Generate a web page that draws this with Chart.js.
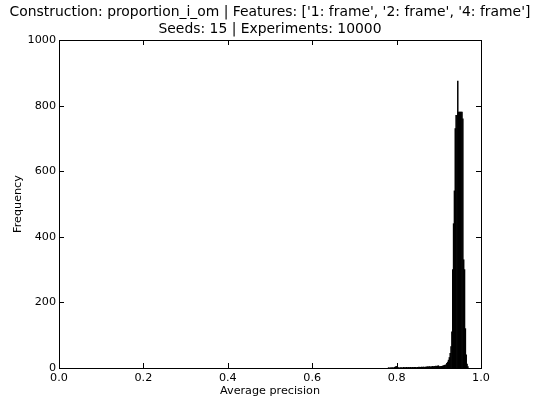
<!DOCTYPE html>
<html>
<head>
<meta charset="utf-8">
<script src="https://cdn.jsdelivr.net/npm/chart.js@4.4.1/dist/chart.umd.min.js"></script>
<style>
html,body{margin:0;padding:0;background:#fff;}
#wrap{width:536px;height:403px;position:relative;}
</style>
</head>
<body>
<div id="wrap"><canvas id="c" width="536" height="403"></canvas></div>
<script>
const titleLines = ["Construction: proportion_i_om | Features: ['1: frame', '2: frame', '4: frame']", "Seeds: 15 | Experiments: 10000"];
const xLabel = "Average precision";
const yLabel = "Frequency";
const xTicks = [0.0, 0.2, 0.4, 0.6, 0.8, 1.0];
const yTicks = [0, 200, 400, 600, 800, 1000];

const binCenters = [
0.781,0.783,0.785,0.787,0.789,0.791,0.793,0.795,0.797,0.799,
0.801,0.803,0.805,0.807,0.809,0.811,0.813,0.815,0.817,0.819,
0.821,0.823,0.825,0.827,0.829,0.831,0.833,0.835,0.837,0.839,
0.841,0.843,0.845,0.847,0.849,0.851,0.853,0.855,0.857,0.859,
0.861,0.863,0.865,0.867,0.869,0.871,0.873,0.875,0.877,0.879,
0.881,0.883,0.885,0.887,0.889,0.891,0.893,0.895,0.897,0.899,
0.901,0.903,0.905,0.907,0.909,0.911,0.913,0.915,0.917,0.919,
0.921,0.923,0.925,0.927,0.929,0.931,0.933,0.935,0.937,0.939,
0.941,0.943,0.945,0.947,0.949,0.951,0.953,0.955,0.957,0.959,
0.961,0.963,0.965,0.967,0.969];
const counts = [
1,0,0,1,0,1,0,2,3,5,
2,1,1,0,1,1,0,1,2,1,
1,2,1,1,2,1,2,1,2,2,
1,2,2,1,2,2,3,2,2,3,
2,3,3,2,3,3,4,3,4,4,
3,4,5,4,5,5,6,5,6,7,
4,4,5,5,6,7,8,9,10,14,
18,24,32,45,65,110,300,440,540,730,
770,770,875,780,780,780,780,780,760,330,
300,120,40,12,4];

const W = 536, H = 403;
const AREA = {left: 59, right: 481, top: 40, bottom: 368};
const PAD_LEFT = 4;
const FONT = "'DejaVu Sans', sans-serif";

const framePlugin = {
  id: 'frame',
  afterDatasetsDraw(chart) {
    const {ctx, chartArea: a, scales: {x, y}} = chart;
    ctx.save();
    ctx.strokeStyle = '#000';
    ctx.lineWidth = 1;
    const tl = 5;
    ctx.beginPath();
    xTicks.forEach(v => {
      const px = Math.round(x.getPixelForValue(v)) + 0.5;
      ctx.moveTo(px, a.bottom); ctx.lineTo(px, a.bottom - tl);
      ctx.moveTo(px, a.top); ctx.lineTo(px, a.top + tl);
    });
    yTicks.forEach(v => {
      const py = Math.round(y.getPixelForValue(v)) + 0.5;
      ctx.moveTo(a.left, py); ctx.lineTo(a.left + tl, py);
      ctx.moveTo(a.right, py); ctx.lineTo(a.right - tl, py);
    });
    ctx.stroke();
    ctx.strokeRect(Math.round(a.left) + 0.5, Math.round(a.top) + 0.5,
                   Math.round(a.right - a.left), Math.round(a.bottom - a.top));
    ctx.restore();
  }
};

new Chart(document.getElementById('c'), {
  type: 'bar',
  data: {
    datasets: [{
      data: binCenters.map((c, i) => ({x: c, y: counts[i]})),
      backgroundColor: '#000',
      borderColor: '#000',
      borderWidth: 0,
      barPercentage: 1.0,
      categoryPercentage: 1.0
    }]
  },
  options: {
    responsive: false,
    animation: false,
    devicePixelRatio: 1,
    layout: {padding: {left: PAD_LEFT, right: 0, top: 0, bottom: 0}},
    plugins: {
      legend: {display: false},
      tooltip: {enabled: false},
      title: {
        display: true,
        text: titleLines,
        color: '#000',
        font: {family: FONT, size: 13.9, weight: 'normal', lineHeight: 1.234},
        padding: {top: 4, bottom: 1.7}
      }
    },
    scales: {
      x: {
        type: 'linear',
        min: 0, max: 1,
        offset: false,
        afterBuildTicks(s) { s.ticks = xTicks.map(v => ({value: v})); },
        ticks: {
          color: '#000',
          font: {family: FONT, size: 11.2},
          padding: 3,
          maxRotation: 0,
          autoSkip: false,
          callback: v => Number(v).toFixed(1)
        },
        grid: {display: false, drawTicks: false, offset: false},
        border: {display: false},
        title: {display: true, text: xLabel, color: '#000',
                font: {family: FONT, size: 11.2}, padding: {top: 0, bottom: 5}},
        afterFit(s) { s.height = H - AREA.bottom; }
      },
      y: {
        min: 0, max: 1000,
        afterBuildTicks(s) { s.ticks = yTicks.map(v => ({value: v})); },
        ticks: {
          color: '#000',
          font: {family: FONT, size: 11.2},
          padding: 3,
          autoSkip: false,
          callback: v => String(v)
        },
        grid: {display: false, drawTicks: false},
        border: {display: false},
        title: {display: true, text: yLabel, color: '#000',
                font: {family: FONT, size: 11.2}, padding: {top: 7.5, bottom: 0}},
        afterFit(s) { s.width = AREA.left - PAD_LEFT; }
      },
      yRight: {
        position: 'right',
        display: true,
        min: 0, max: 1000,
        ticks: {display: false},
        grid: {display: false, drawTicks: false},
        border: {display: false},
        afterFit(s) { s.width = W - AREA.right; }
      }
    }
  },
  plugins: [framePlugin]
});
</script>
</body>
</html>
